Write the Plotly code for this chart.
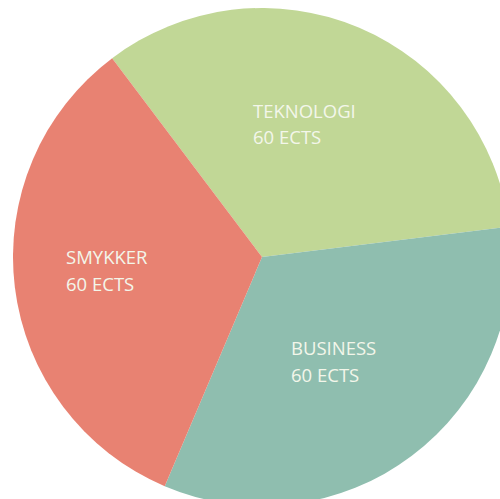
import plotly.graph_objects as go

labels = ["TEKNOLOGI", "BUSINESS", "SMYKKER"]
values = [60, 60, 60]
unit = "ECTS"
colors = ["#c1d796", "#8fbeaf", "#e88272"]

W, H = 524, 514
cx, cy, r = 262, 257, 249

fig = go.Figure(go.Pie(
    labels=labels,
    values=values,
    sort=False,
    direction="clockwise",
    rotation=-37,
    marker=dict(colors=colors, line=dict(width=0)),
    textinfo="none",
    hoverinfo="label+value",
    showlegend=False,
    domain=dict(x=[0, 1], y=[(cy - r) / H, (cy + r) / H]),
))

# (left x, top y of first line, top y of second line) in pixels
label_pos = [(250.7, 95.7, 121.7), (289, 333.1, 359.7), (64, 242.4, 269.1)]
for lab, val, (px, py1, py2) in zip(labels, values, label_pos):
    for txt, py in ((lab, py1), (f"{val} {unit}", py2)):
        fig.add_annotation(
            x=px / W, y=1 - py / H, xref="paper", yref="paper",
            xanchor="left", yanchor="top", align="left",
            text=txt, showarrow=False,
            font=dict(family="Open Sans", size=18.5, color="#f3f6ea"),
        )

fig.update_layout(
    width=W, height=H,
    margin=dict(l=0, r=0, t=0, b=0),
    paper_bgcolor="white", plot_bgcolor="white",
)

fig.write_html(
    "out.html",
    config={"displayModeBar": False},
    post_script="document.body.style.margin='0';document.body.style.overflow='hidden';document.documentElement.style.overflow='hidden';",
)
